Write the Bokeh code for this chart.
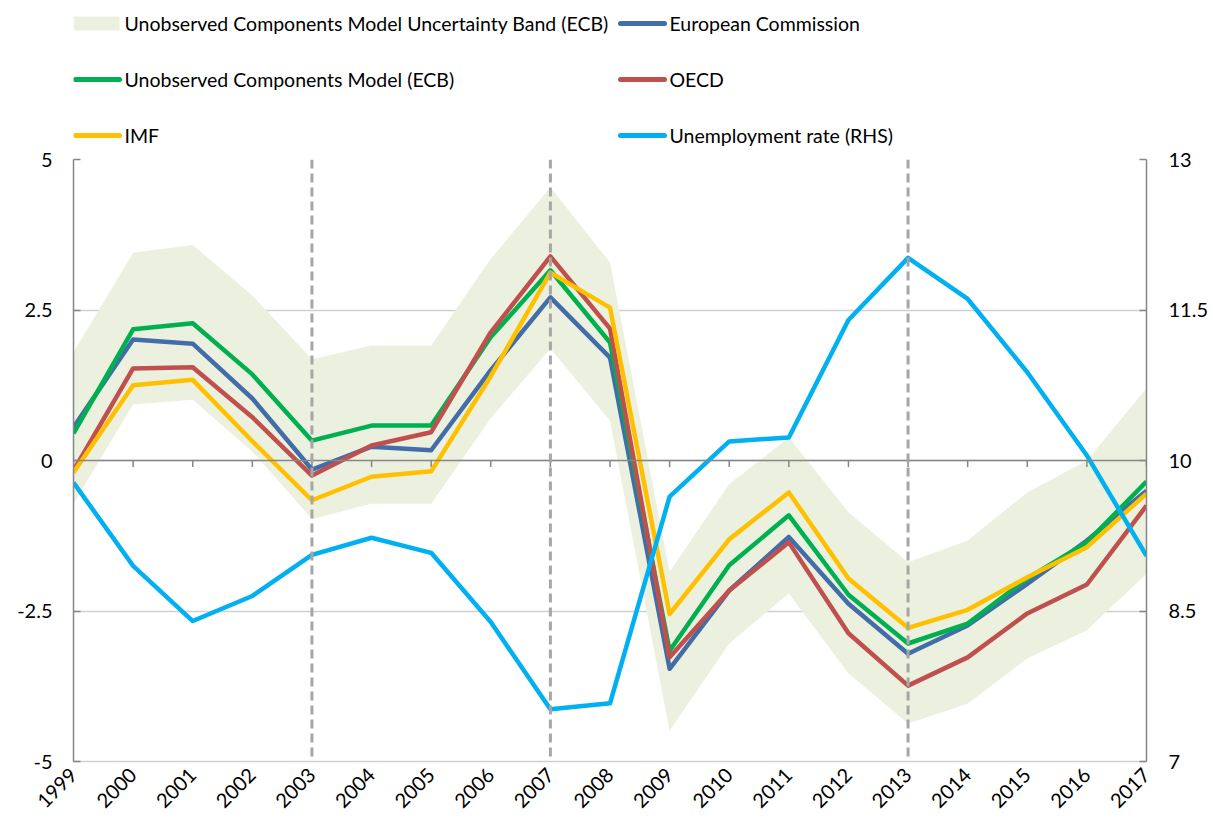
from bokeh.plotting import figure
from bokeh.models import Range1d, LinearAxis, FixedTicker, Span
from bokeh.layouts import column
from bokeh.core.properties import value
from bokeh.embed import file_html
from bokeh.resources import INLINE

# ---------------- data ----------------
years = list(range(1999, 2018))

band_upper = [1.80, 3.45, 3.58, 2.74, 1.68, 1.91, 1.91, 3.35, 4.54, 3.29,
              -1.85, -0.39, 0.38, -0.86, -1.69, -1.33, -0.53, 0.00, 1.20]
band_lower = [-0.72, 0.93, 1.01, 0.15, -0.97, -0.72, -0.72, 0.70, 1.86, 0.66,
              -4.49, -3.04, -2.21, -3.54, -4.37, -4.04, -3.29, -2.82, -1.88]

ucm_ecb = [0.45, 2.18, 2.28, 1.43, 0.33, 0.58, 0.58, 2.05, 3.16, 1.96,
           -3.16, -1.74, -0.91, -2.23, -3.04, -2.71, -1.96, -1.36, -0.35]
eu_comm = [0.55, 2.01, 1.94, 1.03, -0.15, 0.23, 0.17, 1.50, 2.71, 1.71,
           -3.46, -2.16, -1.27, -2.38, -3.21, -2.74, -2.05, -1.33, -0.50]
oecd = [-0.17, 1.53, 1.55, 0.72, -0.25, 0.25, 0.47, 2.13, 3.39, 2.19,
        -3.27, -2.16, -1.36, -2.87, -3.74, -3.27, -2.54, -2.06, -0.75]
imf = [-0.20, 1.25, 1.34, 0.32, -0.66, -0.27, -0.18, 1.40, 3.12, 2.54,
       -2.55, -1.31, -0.53, -1.96, -2.78, -2.48, -1.94, -1.44, -0.55]
unemployment = [9.78, 8.95, 8.40, 8.65, 9.06, 9.23, 9.08, 8.39, 7.52, 7.58,
                9.64, 10.19, 10.23, 11.40, 12.02, 11.61, 10.88, 10.05, 9.05]

marked_years = [2003, 2007, 2013]

left_ticks = [-5, -2.5, 0, 2.5, 5]
left_labels = ["-5", "-2.5", "0", "2.5", "5"]
right_ticks = [7, 8.5, 10, 11.5, 13]
right_labels = ["7", "8.5", "10", "11.5", "13"]

legend_labels = ["Unobserved Components Model Uncertainty Band (ECB)",
                 "Unobserved Components Model (ECB)",
                 "IMF",
                 "European Commission",
                 "OECD",
                 "Unemployment rate (RHS)"]

# ---------------- styles ----------------
FONT = "Lato"
C_BAND = "#EBF1DE"
C_GREEN = "#00B050"
C_BLUE = "#426DA9"
C_RED = "#C0504D"
C_YELLOW = "#FFC000"
C_CYAN = "#00B0F0"
C_AXIS = "#868686"
C_GRID = "#D0D0D0"
LW = 4.5
W = 1212
LEG_H = 147
MAIN_H = 675
B_LEFT = 73
B_RIGHT = 66

legend_colors = [C_BAND, C_GREEN, C_YELLOW, C_BLUE, C_RED, C_CYAN]

# ---------------- legend strip (frame aligned with the chart frame) ----------------
lg = figure(width=W, height=LEG_H, output_backend="svg", toolbar_location=None,
            x_range=Range1d(B_LEFT, W - B_RIGHT), y_range=Range1d(LEG_H, 0),
            min_border_left=B_LEFT, min_border_right=B_RIGHT,
            min_border_top=0, min_border_bottom=0,
            x_axis_type=None, y_axis_type=None)
lg.outline_line_color = None
lg.grid.visible = False
lg.border_fill_color = "white"

col_x = [73, 618]
row_y = [23, 79, 135]
sw_len = 46
pos = [(col_x[i // 3], row_y[i % 3]) for i in range(6)]
bx, by = pos[0]
lg.quad(left=[bx], right=[bx + sw_len], top=[by - 7], bottom=[by + 7],
        fill_color=C_BAND, line_color=None)
lx0 = [pos[i][0] + 2 for i in range(1, 6)]
lx1 = [pos[i][0] + sw_len for i in range(1, 6)]
ly = [pos[i][1] for i in range(1, 6)]
lg.segment(x0=lx0, y0=ly, x1=lx1, y1=ly, line_color=legend_colors[1:],
           line_width=5, line_cap="round")
lg.text(x=[q[0] + sw_len + 5 for q in pos], y=[q[1] for q in pos],
        text=legend_labels, text_font=value(FONT), text_font_size="19.5px",
        text_baseline="middle", text_align="left", text_color="black")

# ---------------- main chart ----------------
p = figure(width=W, height=MAIN_H, output_backend="svg", toolbar_location=None,
           x_range=Range1d(1999, 2017), y_range=Range1d(-5, 5),
           min_border_left=B_LEFT, min_border_right=B_RIGHT, min_border_top=12,
           min_border_bottom=61)
p.outline_line_color = None
p.background_fill_color = "white"
p.border_fill_color = "white"
p.extra_y_ranges = {"rhs": Range1d(7, 13)}

p.xgrid.visible = False
p.ygrid.ticker = FixedTicker(ticks=left_ticks)
p.ygrid.grid_line_color = C_GRID
p.ygrid.grid_line_width = 1.5

xa = p.xaxis[0]
xa.ticker = FixedTicker(ticks=years)
xa.major_label_orientation = 0.785398
xa.axis_line_color = C_GRID
xa.axis_line_width = 1.5
xa.major_tick_line_color = None
xa.minor_tick_line_color = None
xa.major_label_text_font = FONT
xa.major_label_text_font_size = "20px"
xa.major_label_text_color = "black"
xa.major_label_standoff = 4

ya = p.yaxis[0]
ya.ticker = FixedTicker(ticks=left_ticks)
ya.major_label_overrides = {t: l for t, l in zip(left_ticks, left_labels)}
ya.axis_line_color = C_AXIS
ya.axis_line_width = 1.5
ya.major_tick_line_color = C_AXIS
ya.major_tick_line_width = 1.5
ya.major_tick_in = 7
ya.major_tick_out = 0
ya.minor_tick_line_color = None
ya.major_label_text_font = FONT
ya.major_label_text_font_size = "20px"
ya.major_label_text_color = "black"
ya.major_label_standoff = 21

ra = LinearAxis(y_range_name="rhs", ticker=FixedTicker(ticks=right_ticks))
ra.major_label_overrides = {t: l for t, l in zip(right_ticks, right_labels)}
ra.axis_line_color = C_AXIS
ra.axis_line_width = 1.5
ra.major_tick_line_color = C_AXIS
ra.major_tick_line_width = 1.5
ra.major_tick_in = 7
ra.major_tick_out = 0
ra.minor_tick_line_color = None
ra.major_label_text_font = FONT
ra.major_label_text_font_size = "20px"
ra.major_label_text_color = "black"
ra.major_label_standoff = 22
p.add_layout(ra, "right")

p.varea(x=years, y1=band_lower, y2=band_upper, fill_color=C_BAND, fill_alpha=1)

p.add_layout(Span(location=0, dimension="width", line_color=C_AXIS, line_width=1.5))
p.segment(x0=years, y0=[0] * len(years), x1=years, y1=[-0.11] * len(years),
          line_color=C_AXIS, line_width=1.5)

for yr in marked_years:
    p.add_layout(Span(location=yr, dimension="height", line_color="#A6A6A6",
                      line_width=3, line_dash="9 5"))

p.line(years, eu_comm, line_color=C_BLUE, line_width=LW, line_join="round")
p.line(years, ucm_ecb, line_color=C_GREEN, line_width=LW, line_join="round")
p.line(years, oecd, line_color=C_RED, line_width=LW, line_join="round")
p.line(years, imf, line_color=C_YELLOW, line_width=LW, line_join="round")
p.line(years, unemployment, line_color=C_CYAN, line_width=LW,
       line_join="round", y_range_name="rhs")

layout = column(lg, p, spacing=0)
open("out.html", "w").write(file_html(layout, INLINE))
